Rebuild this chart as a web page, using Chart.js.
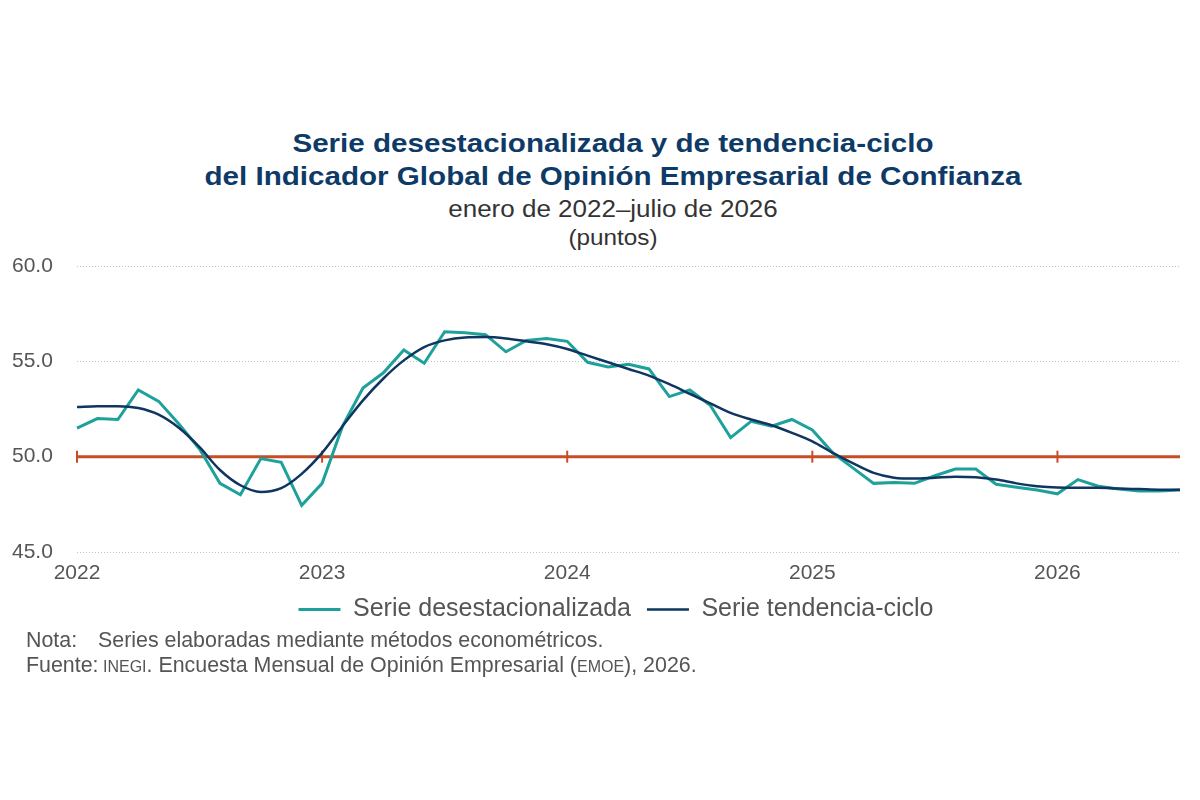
<!DOCTYPE html>
<html lang="es">
<head>
<meta charset="utf-8">
<title>Indicador Global de Opinión Empresarial de Confianza</title>
<script src="https://cdn.jsdelivr.net/npm/chart.js@4.4.1/dist/chart.umd.min.js"></script>
<style>
  html, body { margin: 0; padding: 0; background: #fff; }
  body { width: 1200px; height: 800px; position: relative; overflow: hidden;
         font-family: "Liberation Sans", Arial, sans-serif; }
  .titulo { position: absolute; left: 26px; width: 1174px; text-align: center;
            transform: scaleX(1.13); transform-origin: 50% 50%; white-space: nowrap; }
  .t1 { top: 127px; font-size: 25.5px; font-weight: bold; color: #0d3a66; line-height: 33px;
        transform: scaleX(1.16); }
  .t2 { top: 196px; font-size: 23px; color: #333; line-height: 26px; }
  .t3 { top: 226px; font-size: 21.5px; color: #333; line-height: 24px; }
  #wrap { position: absolute; left: 0; top: 250px; width: 1220px; height: 382px; }
  .nota { position: absolute; left: 26px; font-size: 21.4px; color: #555; line-height: 25px; white-space: nowrap; }
  .nota span.k { display: inline-block; width: 72px; }
  .sc { font-size: 16px; }
</style>
</head>
<body>
<div class="titulo t1">Serie desestacionalizada y de tendencia-ciclo<br>del Indicador Global de Opinión Empresarial de Confianza</div>
<div class="titulo t2">enero de 2022–julio de 2026</div>
<div class="titulo t3">(puntos)</div>
<div id="wrap"><canvas id="chart"></canvas></div>
<div class="nota" style="top:628px"><span class="k">Nota:</span>Series elaboradas mediante métodos econométricos.</div>
<div class="nota" style="top:653px">Fuente:<span class="sc"> INEGI</span>. Encuesta Mensual de Opinión Empresarial (<span class="sc">EMOE</span>), 2026.</div>

<script>
// enero 2022 - julio 2026 (mensual)
const years = ['2022', '2023', '2024', '2025', '2026'];
const monthsPerYear = 12;
const lastYearMonths = 7;

const serieDesest = [
  51.5, 52.0, 51.95, 53.5, 52.9, 51.7, 50.4, 48.6, 48.0, 49.9, 49.7, 47.45,
  48.6, 51.6, 53.6, 54.4, 55.6, 54.9, 56.55, 56.5, 56.4, 55.5, 56.1, 56.2,
  56.05, 54.95, 54.7, 54.85, 54.6, 53.15, 53.5, 52.7, 51.0, 51.85, 51.6, 51.95,
  51.4, 50.2, 49.4, 48.6, 48.65, 48.6, 49.0, 49.35, 49.35, 48.55, 48.4, 48.25,
  48.05, 48.8, 48.45, 48.3, 48.2, 48.2, 48.25
];

const serieTendencia = [
  52.6, 52.65, 52.65, 52.55, 52.2, 51.5, 50.5, 49.3, 48.5, 48.15, 48.35, 49.1,
  50.2, 51.6, 52.95, 54.1, 55.05, 55.75, 56.1, 56.25, 56.27, 56.2, 56.05, 55.9,
  55.65, 55.3, 54.95, 54.6, 54.25, 53.8, 53.3, 52.8, 52.3, 51.95, 51.65, 51.25,
  50.8, 50.2, 49.65, 49.15, 48.9, 48.85, 48.9, 48.95, 48.92, 48.8, 48.6, 48.45,
  48.38, 48.37, 48.37, 48.33, 48.3, 48.27, 48.27
];

const lineaReferencia = 50;
const yTicks = [45, 50, 55, 60];

const etiquetas = [];
years.forEach((y, i) => {
  const n = i === years.length - 1 ? lastYearMonths : monthsPerYear;
  for (let m = 1; m <= n; m++) etiquetas.push(y + '-' + String(m).padStart(2, '0'));
});

// linea roja en 50 con marcas anuales
const referencia = {
  id: 'referencia',
  beforeDatasetsDraw(chart) {
    const { ctx, chartArea, scales } = chart;
    const yp = scales.y.getPixelForValue(lineaReferencia);
    ctx.save();
    ctx.strokeStyle = '#c74d27';
    ctx.lineWidth = 3;
    ctx.beginPath();
    ctx.moveTo(chartArea.left, yp);
    ctx.lineTo(chartArea.right, yp);
    ctx.stroke();
    ctx.lineWidth = 2;
    etiquetas.forEach((lab, i) => {
      if (lab.endsWith('-01')) {
        const xp = scales.x.getPixelForValue(i);
        ctx.beginPath();
        ctx.moveTo(xp, yp - 6);
        ctx.lineTo(xp, yp + 6);
        ctx.stroke();
      }
    });
    ctx.restore();
  }
};

Chart.defaults.font.family = '"Liberation Sans", Arial, sans-serif';

new Chart(document.getElementById('chart'), {
  type: 'line',
  data: {
    labels: etiquetas,
    datasets: [
      {
        label: 'Serie desestacionalizada',
        data: serieDesest,
        borderColor: '#1fa19b',
        backgroundColor: '#1fa19b',
        borderWidth: 3,
        pointRadius: 0,
        tension: 0,
        order: 1
      },
      {
        label: 'Serie tendencia-ciclo',
        data: serieTendencia,
        borderColor: '#0f3560',
        backgroundColor: '#0f3560',
        borderWidth: 2.5,
        pointRadius: 0,
        cubicInterpolationMode: 'monotone',
        order: 0
      }
    ]
  },
  options: {
    responsive: true,
    maintainAspectRatio: false,
    animation: false,
    layout: { padding: { left: 12, right: 0, top: 16, bottom: 0 } },
    plugins: {
      title: { display: false },
      tooltip: { enabled: false },
      legend: {
        position: 'bottom',
        labels: {
          usePointStyle: true,
          pointStyle: 'line',
          pointStyleWidth: 42,
          color: '#555',
          font: { size: 25 },
          padding: 16,
          sort: (a, b) => a.datasetIndex - b.datasetIndex
        }
      }
    },
    scales: {
      x: {
        offset: false,
        afterFit: (s) => { s.height = 29; },
        grid: { display: false, drawTicks: false },
        border: { display: false },
        ticks: {
          autoSkip: false,
          maxRotation: 0,
          color: '#555',
          font: { size: 21 },
          padding: 9,
          callback: (v, i) => etiquetas[i].endsWith('-01') ? etiquetas[i].slice(0, 4) : ''
        }
      },
      y: {
        min: 45,
        max: 60,
        afterBuildTicks: (s) => { s.ticks = yTicks.map(v => ({ value: v })); },
        afterFit: (s) => { s.width = 65; },
        grid: {
          color: (c) => c.tick && c.tick.value === lineaReferencia ? 'rgba(0,0,0,0)' : '#b9c3cd',
          lineWidth: 1,
          drawTicks: false
        },
        border: { display: false, dash: [1, 2] },
        ticks: {
          crossAlign: 'far',
          color: '#555',
          font: { size: 21 },
          callback: (v) => v.toFixed(1)
        }
      },
      // margen derecho vacio (deja la leyenda centrada como en el original)
      yDer: {
        position: 'right',
        min: 45,
        max: 60,
        afterFit: (s) => { s.width = 40; },
        grid: { display: false },
        border: { display: false },
        ticks: { display: false }
      }
    }
  },
  plugins: [referencia]
});
</script>
</body>
</html>
